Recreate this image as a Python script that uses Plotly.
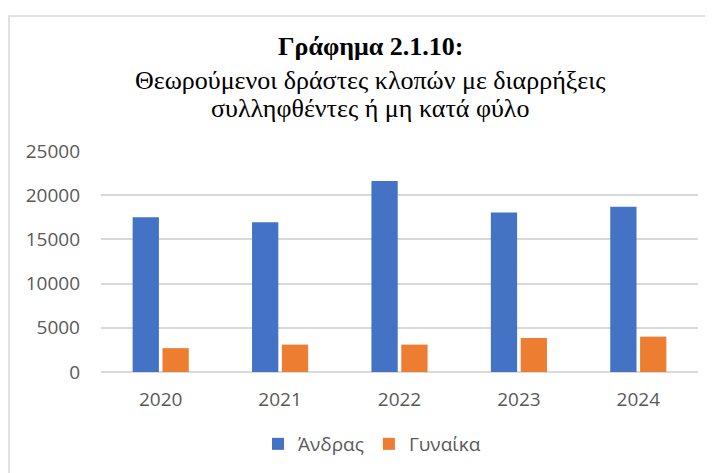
import plotly.graph_objects as go

years = ["2020", "2021", "2022", "2023", "2024"]
men = [17500, 16950, 21600, 18050, 18700]
women = [2700, 3100, 3100, 3850, 4000]
y_ticks = [0, 5000, 10000, 15000, 20000, 25000]

title_bold = "Γράφημα 2.1.10:"
title_line2 = "Θεωρούμενοι δράστες κλοπών με διαρρήξεις"
title_line3 = "συλληφθέντες ή μη κατά φύλο"

W, H = 713, 473
OFF = 8  # page body margin
# plot area in screenshot pixels: x 101..698, y 151..372
L, R, T, B = 101 - OFF, W - (698 - OFF), 151 - OFF, H - (372 - OFF)
plot_w = W - L - R
plot_h = H - T - B

def px_x(x):
    return (x - OFF - L) / plot_w

def px_y(y):
    return (H - B - (y - OFF)) / plot_h

fig = go.Figure()
fig.add_trace(go.Bar(x=years, y=men, name="Άνδρας", marker_color="#4472C4",
                     marker_line_width=0))
fig.add_trace(go.Bar(x=years, y=women, name="Γυναίκα", marker_color="#ED7D31",
                     marker_line_width=0))

tick_font = dict(family="Open Sans, Liberation Sans, sans-serif", size=19, color="#595959")

fig.update_layout(
    width=W, height=H,
    margin=dict(l=L, r=R, t=T, b=B),
    paper_bgcolor="white", plot_bgcolor="white",
    barmode="group", bargap=0.5, bargroupgap=0.12,
    showlegend=True,
    legend=dict(orientation="h", x=px_x(372), y=px_y(444), xanchor="center", yanchor="middle",
                font=tick_font, itemwidth=30, traceorder="normal"),
    xaxis=dict(showgrid=False, showline=False, ticks="", tickfont=tick_font,
               ticklabelstandoff=14),
    yaxis=dict(range=[0, 25000], tickvals=y_ticks, tickformat="d", showgrid=True,
               gridcolor="#D9D9D9", gridwidth=1.5, zeroline=True, zerolinecolor="#D9D9D9",
               zerolinewidth=1.5, showline=False, ticks="", tickfont=tick_font,
               ticklabelstandoff=20),
)

title_font = dict(family="Liberation Serif, Times New Roman, serif", size=26, color="black")
for text, ypix in [("<b>" + title_bold + "</b>", 47), (title_line2, 80), (title_line3, 108)]:
    fig.add_annotation(text=text, xref="paper", yref="paper", x=px_x(370), y=px_y(ypix),
                       xanchor="center", yanchor="middle", showarrow=False, font=title_font)

# chart area border (cropped at right/bottom in the reference)
fig.add_shape(type="rect", xref="paper", yref="paper",
              x0=px_x(9), x1=px_x(760), y0=px_y(520), y1=px_y(16),
              line=dict(color="#D9D9D9", width=1.5), fillcolor="rgba(0,0,0,0)", layer="below")

fig.write_html("out.html")
